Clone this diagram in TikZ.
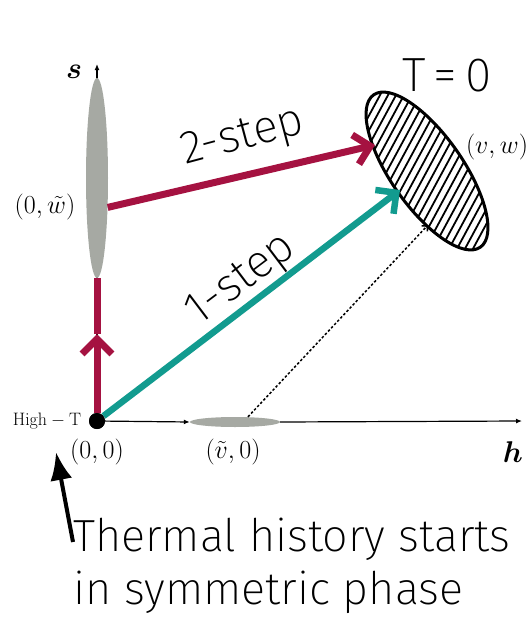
\RequirePackage{fix-cm}
\documentclass[tikz,border=0pt]{standalone}
\usepackage{amsmath}
\usepackage[no-math]{fontspec}
\IfFontExistsTF{Fira Sans ExtraLight}
  {\setmainfont{Fira Sans ExtraLight}}
  {\setmainfont{Fira Sans Light}}
\usetikzlibrary{arrows.meta,shapes.geometric}
\definecolor{steprd}{RGB}{165,18,65}
\definecolor{steptl}{RGB}{18,155,143}
\definecolor{blobgr}{RGB}{166,169,163}

\begin{document}
\begin{tikzpicture}[x=1pt, y=-1pt, >=Latex,
    every node/.style={align=center},
    axis/.style={line width=1.2pt, -{Latex[length=6pt,width=5pt]}},
    blob/.style={ellipse, fill=blobgr, inner sep=0pt},
    redstep/.style={steprd, line width=7pt},
    tealstep/.style={steptl, line width=6.5pt},
    barb/.style={-{Straight Barb[length=15pt,width=30pt]}},
    mathlbl/.style={font=\fontsize{26}{30}\selectfont},
    axislbl/.style={font=\fontsize{30}{34}\selectfont},
    steplbl/.style={font=\fontsize{46}{52}\selectfont}]
    \useasboundingbox (0,0) rectangle (529,621);
    % axes
    \coordinate (stip) at (97,64);
    \coordinate (htip) at (522,421);
    \node[circle, fill, inner sep=0pt, minimum size=16pt] (orig) at (97,421) {};
    \node[blob, minimum width=90pt, minimum height=10pt] (vtil) at (235,422) {};
    \draw[axis] (orig) -- (stip);
    \draw[axis] (orig) -- (vtil.west);
    \draw[axis] (vtil.east) -- (htip);
    \node[blob, minimum width=22pt, minimum height=200pt] (wtil) at (97,178) {};
    % zero temperature region
    \begin{scope}
      \clip[shift={(427,171)}, rotate=-55] (0,0) ellipse [x radius=93, y radius=36];
      \fill[white] (320,60) rectangle (529,290);
      \foreach \k in {-18,...,18}
        \draw[line width=1.8pt] (427+8*\k-100,171+185) -- (427+8*\k+100,171-185);
    \end{scope}
    \draw[line width=3pt, shift={(427,171)}, rotate=-55] (0,0) ellipse [x radius=93, y radius=36];
    \coordinate (redhit) at (375,145);
    \coordinate (tealhit) at (400,190);
    \coordinate (dothit) at (428,225);
    \coordinate (redmid) at (97,334);
    % paths
    \draw[redstep, barb] (orig) -- (redmid);
    \draw[redstep] (redmid) -- (wtil.south);
    \draw[redstep, barb] (wtil.-70) -- (redhit);
    \draw[tealstep, barb] (orig) -- (tealhit);
    \draw[dash pattern=on 2.5pt off 2pt, line width=1.5pt, -{Straight Barb[length=4pt,width=8pt]}]
      ([xshift=13pt]vtil.north) -- (dothit);
    \node[circle, fill, inner sep=0pt, minimum size=16pt] at (orig) {};
    % labels
    \node[steplbl, rotate=15] (twostep) at (243,138) {2-step};
    \node[steplbl, rotate=37] (onestep) at (242,281) {1-step};
    \node[steplbl, font=\fontsize{48}{52}\selectfont] (tzero) at (447,75) {T\,=\,0};
    \node[mathlbl] (wlbl) at (45,207) {$(0,\tilde w)$};
    \node[mathlbl] (vwlbl) at (497,147) {$(v,w)$};
    \node[mathlbl] (olbl) at (97,452) {$(0,0)$};
    \node[mathlbl] (vlbl) at (233,452) {$(\tilde v,0)$};
    \node[font=\fontsize{18}{21}\selectfont] (hightlbl) at (47,421) {$\mathrm{High-T}$};
    \node[axislbl] (slbl) at (74,72) {$\boldsymbol{s}$};
    \node[axislbl] (hlbl) at (513,452) {$\boldsymbol{h}$};
    \node[font=\fontsize{45}{53}\selectfont, align=left, anchor=north west, inner sep=0pt]
      (thermal) at (73,518) {Thermal history starts\\in symmetric phase};
    \coordinate (arrtip) at (56,452);
    \draw[line width=4pt, -{Latex[length=28pt,width=22pt]}]
      ([yshift=-24pt]thermal.north west) -- (arrtip);
  \end{tikzpicture}
\end{document}
